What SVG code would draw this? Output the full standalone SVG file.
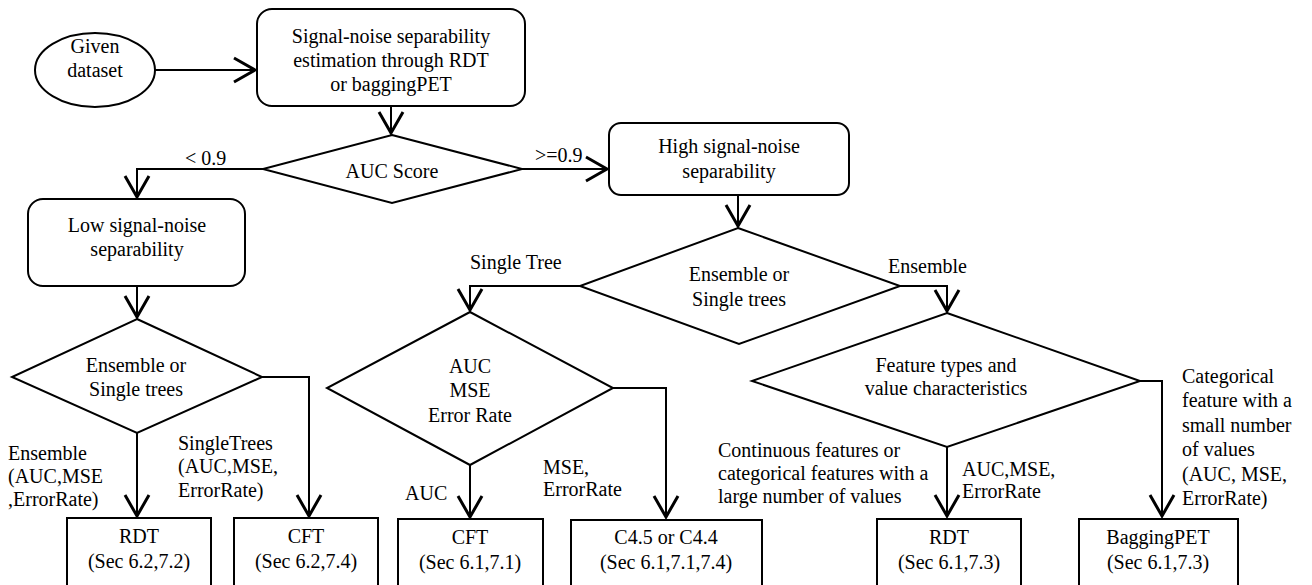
<svg xmlns="http://www.w3.org/2000/svg" width="1312" height="585" viewBox="0 0 1312 585">
<defs>
<style>
.s{fill:#fff;stroke:#000;stroke-width:2}
.c{fill:none;stroke:#000;stroke-width:2}
.m{text-anchor:middle}
</style>
<marker id="a" markerUnits="userSpaceOnUse" markerWidth="30" markerHeight="30" viewBox="-16 -10 20 20" refX="0" refY="0" orient="auto">
<path d="M-14,-8 L0,0 L-14,8" fill="none" stroke="#000" stroke-width="2"/>
</marker>
</defs>
<rect width="1312" height="585" fill="#fff"/>
<g id="connectors">
<path class="c" d="M155,70 H255" marker-end="url(#a)"/>
<path class="c" d="M391,106 V133" marker-end="url(#a)"/>
<path class="c" d="M263,169 H137 V197" marker-end="url(#a)"/>
<path class="c" d="M522,169 H607" marker-end="url(#a)"/>
<path class="c" d="M738,195 V226" marker-end="url(#a)"/>
<path class="c" d="M580,286 H470 V310" marker-end="url(#a)"/>
<path class="c" d="M900,286 H947 V311" marker-end="url(#a)"/>
<path class="c" d="M137,286 V317" marker-end="url(#a)"/>
<path class="c" d="M137,433 V516" marker-end="url(#a)"/>
<path class="c" d="M262,377 H309 V516" marker-end="url(#a)"/>
<path class="c" d="M470,465 V517" marker-end="url(#a)"/>
<path class="c" d="M613,388 H666 V517" marker-end="url(#a)"/>
<path class="c" d="M947,447 V516" marker-end="url(#a)"/>
<path class="c" d="M1140,381 H1162 V516" marker-end="url(#a)"/>
<text font-family="Liberation Serif" font-size="20" x="185" y="165">&lt; 0.9</text>
<text font-family="Liberation Serif" font-size="20" x="535" y="162">&gt;=0.9</text>
<text font-family="Liberation Serif" font-size="20" x="470" y="269">Single Tree</text>
<text font-family="Liberation Serif" font-size="20" x="888" y="273">Ensemble</text>
<text font-family="Liberation Serif" font-size="20" x="8" y="460">Ensemble</text>
<text font-family="Liberation Serif" font-size="20" x="8" y="483">(AUC,MSE</text>
<text font-family="Liberation Serif" font-size="20" x="8" y="506">,ErrorRate)</text>
<text font-family="Liberation Serif" font-size="20" x="178" y="450">SingleTrees</text>
<text font-family="Liberation Serif" font-size="20" x="178" y="473">(AUC,MSE,</text>
<text font-family="Liberation Serif" font-size="20" x="178" y="497">ErrorRate)</text>
<text font-family="Liberation Serif" font-size="20" x="405" y="500">AUC</text>
<text font-family="Liberation Serif" font-size="20" x="543" y="474">MSE,</text>
<text font-family="Liberation Serif" font-size="20" x="543" y="496">ErrorRate</text>
<text font-family="Liberation Serif" font-size="20" x="718" y="457">Continuous features or</text>
<text font-family="Liberation Serif" font-size="20" x="718" y="480">categorical features with a</text>
<text font-family="Liberation Serif" font-size="20" x="718" y="503">large number of values</text>
<text font-family="Liberation Serif" font-size="20" x="962" y="476">AUC,MSE,</text>
<text font-family="Liberation Serif" font-size="20" x="962" y="498">ErrorRate</text>
<text font-family="Liberation Serif" font-size="20" x="1182" y="383">Categorical</text>
<text font-family="Liberation Serif" font-size="20" x="1182" y="407">feature with a</text>
<text font-family="Liberation Serif" font-size="20" x="1182" y="432">small number</text>
<text font-family="Liberation Serif" font-size="20" x="1182" y="456">of values</text>
<text font-family="Liberation Serif" font-size="20" x="1182" y="481">(AUC, MSE,</text>
<text font-family="Liberation Serif" font-size="20" x="1182" y="505">ErrorRate)</text>
</g>
<g id="given">
<ellipse class="s" cx="95" cy="70" rx="60" ry="37"/>
<text font-family="Liberation Serif" font-size="20" class="m" x="95" y="53">Given</text>
<text font-family="Liberation Serif" font-size="20" class="m" x="95" y="77">dataset</text>
</g>
<g id="estimate">
<rect class="s" x="257" y="9" width="268" height="97" rx="15"/>
<text font-family="Liberation Serif" font-size="20" class="m" x="391" y="43">Signal-noise separability</text>
<text font-family="Liberation Serif" font-size="20" class="m" x="391" y="67">estimation through RDT</text>
<text font-family="Liberation Serif" font-size="20" class="m" x="391" y="91">or baggingPET</text>
</g>
<g id="auc">
<polygon class="s" points="392,135 522,169 392,203 263,169"/>
<text font-family="Liberation Serif" font-size="20" class="m" x="392" y="178">AUC Score</text>
</g>
<g id="high">
<rect class="s" x="609" y="123" width="240" height="72" rx="12"/>
<text font-family="Liberation Serif" font-size="20" class="m" x="729" y="153">High signal-noise</text>
<text font-family="Liberation Serif" font-size="20" class="m" x="729" y="178">separability</text>
</g>
<g id="low">
<rect class="s" x="28" y="199" width="217" height="87" rx="15"/>
<text font-family="Liberation Serif" font-size="20" class="m" x="137" y="232">Low signal-noise</text>
<text font-family="Liberation Serif" font-size="20" class="m" x="137" y="256">separability</text>
</g>
<g id="d-left">
<polygon class="s" points="137,319 262,377 137,433 12,377"/>
<text font-family="Liberation Serif" font-size="20" class="m" x="136" y="372">Ensemble or</text>
<text font-family="Liberation Serif" font-size="20" class="m" x="136" y="396">Single trees</text>
</g>
<g id="d-high">
<polygon class="s" points="738,228 900,286 739,344 580,286"/>
<text font-family="Liberation Serif" font-size="20" class="m" x="739" y="281">Ensemble or</text>
<text font-family="Liberation Serif" font-size="20" class="m" x="739" y="306">Single trees</text>
</g>
<g id="d-metric">
<polygon class="s" points="470,312 613,388 470,465 327,388"/>
<text font-family="Liberation Serif" font-size="20" class="m" x="470" y="373">AUC</text>
<text font-family="Liberation Serif" font-size="20" class="m" x="470" y="397">MSE</text>
<text font-family="Liberation Serif" font-size="20" class="m" x="470" y="422">Error Rate</text>
</g>
<g id="d-feature">
<polygon class="s" points="947,313 1140,381 947,447 752,381"/>
<text font-family="Liberation Serif" font-size="20" class="m" x="946" y="372">Feature types and</text>
<text font-family="Liberation Serif" font-size="20" class="m" x="946" y="395">value characteristics</text>
</g>
<g id="rdt1">
<rect class="s" x="67" y="518" width="144" height="72"/>
<text font-family="Liberation Serif" font-size="20" class="m" x="139" y="543">RDT</text>
<text font-family="Liberation Serif" font-size="20" class="m" x="139" y="568">(Sec 6.2,7.2)</text>
</g>
<g id="cft1">
<rect class="s" x="234" y="518" width="144" height="72"/>
<text font-family="Liberation Serif" font-size="20" class="m" x="306" y="543">CFT</text>
<text font-family="Liberation Serif" font-size="20" class="m" x="306" y="568">(Sec 6.2,7.4)</text>
</g>
<g id="cft2">
<rect class="s" x="398" y="519" width="145" height="71"/>
<text font-family="Liberation Serif" font-size="20" class="m" x="470" y="544">CFT</text>
<text font-family="Liberation Serif" font-size="20" class="m" x="470" y="569">(Sec 6.1,7.1)</text>
</g>
<g id="c45">
<rect class="s" x="571" y="520" width="191" height="70"/>
<text font-family="Liberation Serif" font-size="20" class="m" x="666" y="544">C4.5 or C4.4</text>
<text font-family="Liberation Serif" font-size="20" class="m" x="666" y="569">(Sec 6.1,7.1,7.4)</text>
</g>
<g id="rdt2">
<rect class="s" x="877" y="519" width="144" height="71"/>
<text font-family="Liberation Serif" font-size="20" class="m" x="949" y="544">RDT</text>
<text font-family="Liberation Serif" font-size="20" class="m" x="949" y="569">(Sec 6.1,7.3)</text>
</g>
<g id="bagging">
<rect class="s" x="1079" y="519" width="159" height="71"/>
<text font-family="Liberation Serif" font-size="20" class="m" x="1158" y="544">BaggingPET</text>
<text font-family="Liberation Serif" font-size="20" class="m" x="1158" y="569">(Sec 6.1,7.3)</text>
</g>
</svg>
